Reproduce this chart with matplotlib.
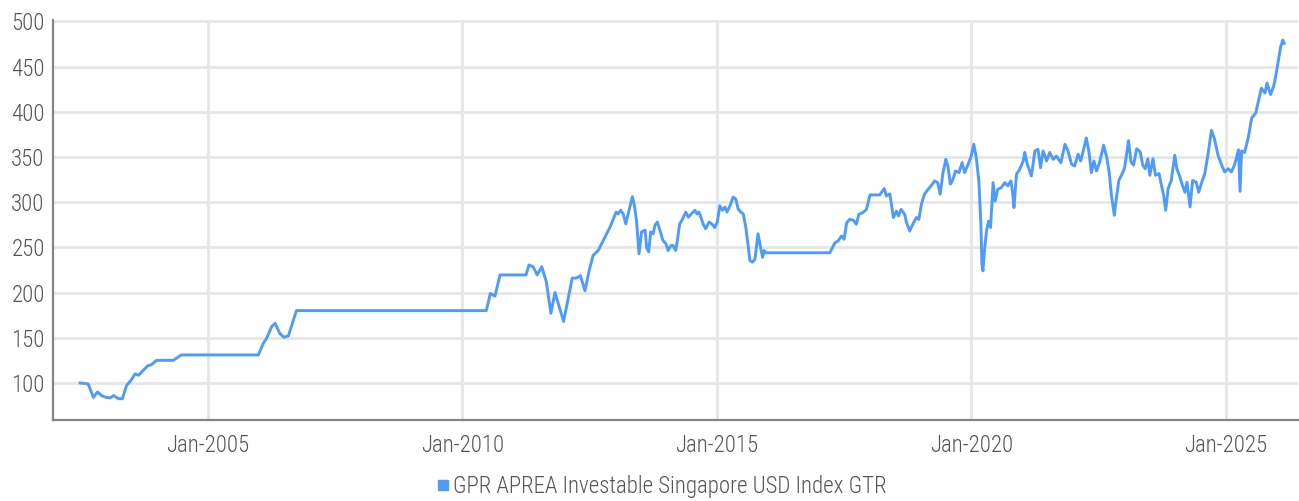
import matplotlib
matplotlib.use("Agg")
import matplotlib.pyplot as plt
from matplotlib.font_manager import fontManager
from matplotlib.lines import Line2D
import pandas as pd
import numpy as np

# ---- data: (decimal year, index value) ----
early_points = [
    (2002.49, 100), (2002.63, 99), (2002.65, 98.5), (2002.75, 84), (2002.83, 90),
    (2002.91, 86), (2003.00, 84), (2003.08, 83.5), (2003.15, 86), (2003.24, 82.6),
    (2003.32, 82.5), (2003.40, 97), (2003.49, 103), (2003.57, 110), (2003.64, 108.5),
    (2003.73, 114), (2003.82, 119), (2003.90, 120.5), (2003.99, 125), (2004.32, 125),
    (2004.48, 131), (2005.99, 131), (2006.09, 144), (2006.15, 149), (2006.25, 162),
    (2006.32, 166), (2006.41, 155), (2006.49, 150.5), (2006.58, 152), (2006.74, 180),
    (2010.47, 180), (2010.55, 199), (2010.64, 196), (2010.74, 219.5), (2011.25, 219.5),
    (2011.31, 230.5), (2011.39, 228.6), (2011.47, 219.5), (2011.56, 228.6), (2011.65, 212),
    (2011.74, 177), (2011.82, 200), (2011.99, 168), (2012.16, 216), (2012.24, 216),
    (2012.32, 218.7), (2012.41, 202),
]
mid_points = [
    (2012.50, 226), (2012.57, 241), (2012.67, 246.5), (2012.77, 257.6), (2012.90, 272),
    (2013.02, 289), (2013.06, 287), (2013.11, 291), (2013.16, 287), (2013.21, 276),
    (2013.25, 285), (2013.29, 294.5), (2013.34, 306), (2013.38, 296), (2013.42, 280),
    (2013.47, 243), (2013.52, 267), (2013.59, 269), (2013.62, 250), (2013.66, 245),
    (2013.70, 267), (2013.75, 265), (2013.78, 274), (2013.83, 278), (2013.88, 269),
    (2013.94, 257.6), (2014.00, 254), (2014.04, 246.5), (2014.10, 252), (2014.14, 252),
    (2014.19, 246.5), (2014.22, 256), (2014.27, 276), (2014.33, 281.6), (2014.39, 289),
    (2014.44, 283.4), (2014.50, 287), (2014.57, 291), (2014.61, 287), (2014.65, 289),
    (2014.73, 276), (2014.78, 270.5), (2014.85, 278), (2014.90, 276), (2014.96, 272),
    (2015.01, 278), (2015.06, 296), (2015.11, 291), (2015.16, 294.5), (2015.20, 289),
    (2015.26, 296), (2015.32, 305.5), (2015.37, 303.7), (2015.42, 292.6), (2015.47, 289),
    (2015.52, 287), (2015.57, 272), (2015.62, 250), (2015.65, 235.5), (2015.70, 233.6),
    (2015.75, 237), (2015.81, 265), (2015.86, 250), (2015.90, 239), (2015.93, 246.5),
    (2015.97, 244), (2017.22, 244),
]
late_points = [
    (2017.32, 255), (2017.38, 257), (2017.45, 262.6), (2017.50, 259), (2017.55, 277),
    (2017.61, 281), (2017.68, 280), (2017.74, 275.5), (2017.79, 286.6), (2017.87, 288.4),
    (2017.94, 292), (2018.01, 308), (2018.20, 308), (2018.29, 315), (2018.33, 307),
    (2018.40, 309), (2018.43, 297.6), (2018.47, 283), (2018.53, 290), (2018.57, 284.7),
    (2018.62, 292), (2018.69, 286.6), (2018.73, 277), (2018.79, 268), (2018.85, 275.5),
    (2018.92, 283), (2018.97, 281), (2019.02, 297.6), (2019.08, 308.7), (2019.15, 314),
    (2019.21, 318), (2019.28, 323.5), (2019.34, 321.6), (2019.39, 308.7), (2019.44, 331),
    (2019.50, 347.4), (2019.54, 340), (2019.59, 320), (2019.64, 325), (2019.69, 334.5),
    (2019.76, 332.7), (2019.82, 343.7), (2019.87, 332.7), (2019.94, 342), (2020.00, 351),
    (2020.05, 364), (2020.10, 349), (2020.15, 323.5), (2020.19, 276), (2020.21, 231),
    (2020.23, 224), (2020.26, 246), (2020.30, 268), (2020.34, 279), (2020.38, 272),
    (2020.43, 321.6), (2020.47, 301), (2020.52, 314), (2020.59, 316), (2020.66, 321.6),
    (2020.72, 318), (2020.78, 323.5), (2020.81, 312.4), (2020.84, 294), (2020.89, 331),
    (2020.95, 336), (2021.02, 345.6), (2021.05, 355), (2021.10, 342), (2021.18, 329),
    (2021.25, 356.6), (2021.31, 358.5), (2021.36, 338), (2021.41, 356.6), (2021.48, 345.6),
    (2021.54, 355), (2021.61, 347.4), (2021.67, 351), (2021.76, 343.7), (2021.84, 364),
    (2021.90, 356.6), (2021.97, 342), (2022.03, 340), (2022.10, 353), (2022.15, 345.6),
    (2022.20, 356.6), (2022.26, 371), (2022.31, 356.6), (2022.36, 332.7), (2022.41, 345.6),
    (2022.46, 334.5), (2022.52, 343.7), (2022.60, 363), (2022.66, 350), (2022.71, 333),
    (2022.75, 309.4), (2022.81, 285.5), (2022.85, 304), (2022.90, 324), (2022.95, 329.7),
    (2023.01, 337), (2023.05, 352), (2023.09, 368), (2023.14, 344.5), (2023.19, 341),
    (2023.25, 359), (2023.32, 355.5), (2023.37, 341), (2023.42, 337), (2023.47, 348),
    (2023.51, 329.7), (2023.57, 348), (2023.62, 329.7), (2023.69, 331.6), (2023.73, 320.5),
    (2023.78, 307.6), (2023.82, 291), (2023.87, 315), (2023.93, 324), (2024.00, 352),
    (2024.04, 337), (2024.10, 328), (2024.15, 318.7), (2024.20, 311), (2024.24, 322),
    (2024.30, 294.7), (2024.35, 324), (2024.42, 322), (2024.47, 311), (2024.53, 322),
    (2024.59, 331.6), (2024.66, 355.5), (2024.72, 379.5), (2024.78, 370), (2024.85, 352),
    (2024.92, 341), (2024.98, 333.4), (2025.05, 337), (2025.11, 333.4), (2025.17, 341),
    (2025.21, 349), (2025.25, 358), (2025.28, 312), (2025.31, 356.6), (2025.37, 355),
    (2025.44, 371), (2025.51, 393), (2025.59, 398.7), (2025.64, 411.5), (2025.70, 426),
    (2025.77, 420.6), (2025.81, 431.7), (2025.88, 419), (2025.94, 428), (2025.98, 439),
    (2026.03, 455.5), (2026.08, 472), (2026.12, 479.3), (2026.15, 475.6),
]

legend_label = "GPR APREA Investable Singapore USD Index GTR"
y_ticks = [100, 150, 200, 250, 300, 350, 400, 450, 500]
x_tick_years = [2005, 2010, 2015, 2020, 2025]


def to_date(y):
    yr = int(np.floor(y))
    return pd.Timestamp(year=yr, month=1, day=1) + pd.Timedelta(days=(y - yr) * 365.25)


all_points = early_points + mid_points + late_points
years = [p[0] for p in all_points]
values = [p[1] for p in all_points]
dates = [to_date(v) for v in years]

# ---- fonts ----
names = {f.name for f in fontManager.ttflist}
prefs = ["Roboto Condensed", "Barlow Semi Condensed", "Liberation Sans Narrow",
         "Open Sans Condensed", "Roboto", "DejaVu Sans"]
fam = [f for f in prefs if f in names]
plt.rcParams["font.family"] = fam
plt.rcParams["font.weight"] = "light"
condensed = fam[0] in ("Roboto Condensed", "Barlow Semi Condensed",
                       "Liberation Sans Narrow", "Open Sans Condensed")
FS = 16.5 if condensed else 15.0

LINE = "#4f9bfa"
GRID = "#e6e6e6"
SPINE = "#858585"
TXT = "#555555"

fig = plt.figure(figsize=(12.99, 5.01), dpi=100)
ax = fig.add_axes([53 / 1299, 81 / 501, 1245 / 1299, 400 / 501])

ax.plot(dates, values, color=LINE, lw=2.1, solid_joinstyle="round", zorder=3)

ax.set_xlim(to_date(2001.955), to_date(2026.42))
ax.set_ylim(59, 501.5)

ax.set_yticks(y_ticks)
ax.set_yticklabels([str(t) for t in y_ticks])
ax.set_xticks([to_date(y) for y in x_tick_years])
ax.set_xticklabels([f"Jan-{y}" for y in x_tick_years])

ax.grid(True, color=GRID, lw=2.0, zorder=0)
ax.set_axisbelow(True)
for s in ["top", "right"]:
    ax.spines[s].set_visible(False)
for s in ["left", "bottom"]:
    ax.spines[s].set_color(SPINE)
    ax.spines[s].set_linewidth(1.6)

ax.tick_params(axis="both", length=0, colors=TXT, labelsize=FS)
ax.tick_params(axis="y", pad=6)
ax.tick_params(axis="x", pad=10)

handle = Line2D([], [], marker="s", color=LINE, ls="none", markersize=7.5)
fig.legend([handle], [legend_label], loc="lower center", bbox_to_anchor=(0.508, -0.036),
           frameon=False, fontsize=FS, handletextpad=0.05, labelcolor=TXT,
           handlelength=0.8)

fig.savefig("out.png", dpi=100, facecolor="white")
